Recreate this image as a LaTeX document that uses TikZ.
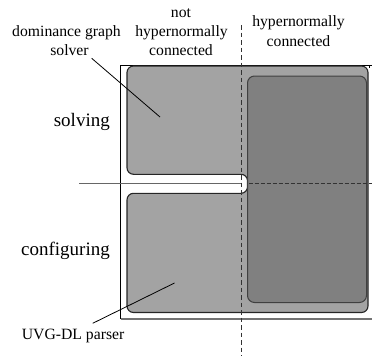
\documentclass[tikz,border=0pt]{standalone}
\usepackage{fontspec}
\setmainfont{Liberation Serif}
\newfontfamily\lserif{Liberation Serif}
\begin{document}
\begin{tikzpicture}[x=1pt,y=-1pt,
  small/.style={font=\lserif\fontsize{15.7}{19}\selectfont,inner sep=0pt,anchor=base},
  big/.style={font=\lserif\fontsize{19}{22}\selectfont,inner sep=0pt,anchor=base east},
  leader/.style={draw=black,line width=0.8pt},
  outerframe/.style={line width=0.8pt},
  lightarea/.style={fill=black!36,draw=black!85,line width=1.1pt,rounded corners=6.5pt},
  darkarea/.style={fill=black!50,draw=black!75,line width=1pt,rounded corners=7pt},
  divider/.style={draw=black!80,line width=0.8pt,dash pattern=on 4.5pt off 3pt}
]
\useasboundingbox (0,0) rectangle (372,356);
% outer frame
\draw[outerframe] (373,65.3) -- (120.5,65.3) -- (120.5,318.7);
\draw[outerframe] (369.5,65.3) -- (369.5,68);
\draw[draw=black!55,line width=1.6pt] (120.5,318.7) -- (373,318.7);
% light area with notch
\path[lightarea] (127,66) -- (368,66) -- (368,312.5) -- (127,312.5) -- (127,193.3)
  -- (247.5,193.3) -- (247.5,174.3) -- (127,174.3) -- cycle;
% dark area
\path[darkarea] (247.5,76) rectangle (366.5,302.5);
% separators
\coordinate (hl) at (79,183.7);
\coordinate (hm) at (242,183.7);
\coordinate (hn) at (248.5,183.7);
\coordinate (hr) at (372,183.7);
\draw[draw=black!60,line width=0.9pt] (hl) -- (hm);
\draw[divider,dash pattern=on 4pt off 2pt] (hn) -- (hr);
\coordinate (vt) at (241.7,25);
\coordinate (vb) at (241.7,356);
\draw[divider] (vt) -- (vb);
% labels
\node[small] (n1) at (181,17) {not};
\node[small] (n2) at (181.5,36) {hypernormally};
\node[small] (n3) at (181,55) {connected};
\node[small] (h1) at (298.5,27) {hypernormally};
\node[small] (h2) at (298.5,46) {connected};
\node[small] (d1) at (66.5,36) {dominance graph};
\node[small] (d2) at (69.5,55) {solver};
\node[big] (sv) at (110,126.7) {solving};
\node[big] (cf) at (110,255) {configuring};
\node[small,anchor=base west] (uv) at (21.7,339.5) {UVG-DL parser};
% leaders
\coordinate (sl1) at (91.7,58.3);
\coordinate (sl2) at (160,117);
\draw[leader] (sl1) -- (sl2);
\coordinate (ul1) at (92.7,323.3);
\coordinate (ul2) at (174.5,283);
\draw[leader] (ul1) -- (ul2);
\end{tikzpicture}
\end{document}
